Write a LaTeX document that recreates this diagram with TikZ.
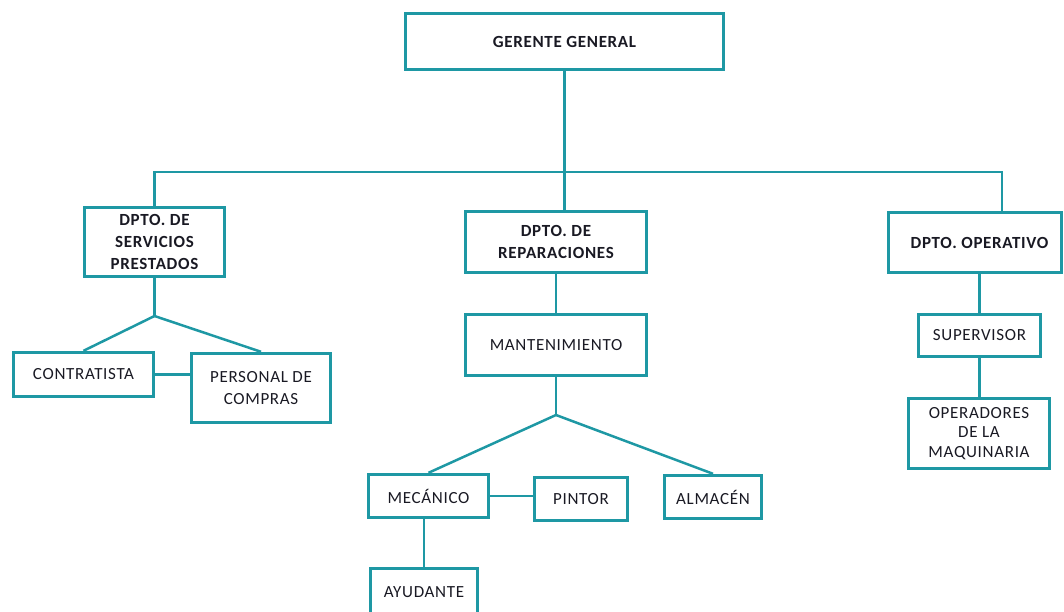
\documentclass[tikz,border=0pt]{standalone}
\usepackage{fontspec}
\setmainfont{Carlito}[LetterSpace=4]
\definecolor{orgteal}{RGB}{30,152,164}
\definecolor{orgtext}{RGB}{25,25,35}
\begin{document}
\begin{tikzpicture}[
        x=1pt, y=-1pt,
        box/.style={draw=orgteal, line width=3.4pt, rectangle, align=center, inner sep=0pt,
                    text=orgtext, font=\fontsize{17}{22}\selectfont},
        head/.style={box, font=\fontsize{17}{22}\selectfont\bfseries},
        link/.style={draw=orgteal, line width=2.5pt}
    ]
        \useasboundingbox (0,0) rectangle (1064,612);

        % Boxes
        \node[head, minimum width=318, minimum height=56] (gerente) at (564.5,41.5) {GERENTE GENERAL};
        \node[head, minimum width=140, minimum height=69] (servicios) at (154.5,242) {DPTO. DE\\SERVICIOS\\PRESTADOS};
        \node[head, minimum width=181, minimum height=61] (reparaciones) at (556,242) {DPTO. DE\\REPARACIONES};
        \node[head, minimum width=173, minimum height=60] (operativo) at (975,242.5) {\hspace*{9pt}DPTO. OPERATIVO};
        \node[box, minimum width=181, minimum height=61] (mantenimiento) at (556,345) {MANTENIMIENTO};
        \node[box, minimum width=140, minimum height=44] (contratista) at (83.5,374.5) {CONTRATISTA};
        \node[box, minimum width=139, minimum height=69] (personal) at (261,388) {PERSONAL DE\\COMPRAS};
        \node[box, minimum width=122, minimum height=42] (supervisor) at (979.5,335.5) {SUPERVISOR};
        \node[box, minimum width=141, minimum height=70, font=\fontsize{17}{19.5}\selectfont] (operadores) at (979,433.5) {OPERADORES\\DE LA\\MAQUINARIA};
        \node[box, minimum width=120, minimum height=43] (mecanico) at (428.5,496) {MECÁNICO};
        \node[box, minimum width=93, minimum height=43] (pintor) at (581,499) {PINTOR};
        \node[box, minimum width=97, minimum height=43] (almacen) at (713,497) {ALMACÉN};
        \node[box, minimum width=107, minimum height=47] (ayudante) at (424,592) {AYUDANTE};

        % Junctions
        \coordinate (busL) at (154.5,172);
        \coordinate (busR) at (1002,172);
        \coordinate (forkS) at (154.5,316);
        \coordinate (forkM) at (556,415);

        % Connectors
        \draw[link] (gerente.south) -- (gerente.south |- reparaciones.north);
        \draw[link] (servicios.north) -- (busL) -- (busR) -- (busR |- operativo.north);
        \draw[link] (servicios.south) -- (forkS);
        \draw[link] (forkS) -- (contratista.north);
        \draw[link] (forkS) -- (personal.north);
        \draw[link] (contratista.east) -- (contratista.east -| personal.west);
        \draw[link] (reparaciones.south) -- (mantenimiento.north);
        \draw[link] (mantenimiento.south) -- (forkM);
        \draw[link] (forkM) -- (mecanico.north);
        \draw[link] (forkM) -- (almacen.north);
        \draw[link] (mecanico.east) -- (mecanico.east -| pintor.west);
        \draw[link] (ayudante.north |- mecanico.south) -- (ayudante.north);
        \draw[link] (supervisor.north |- operativo.south) -- (supervisor.north);
        \draw[link] (supervisor.south) -- (supervisor.south |- operadores.north);
    \end{tikzpicture}
\end{document}
